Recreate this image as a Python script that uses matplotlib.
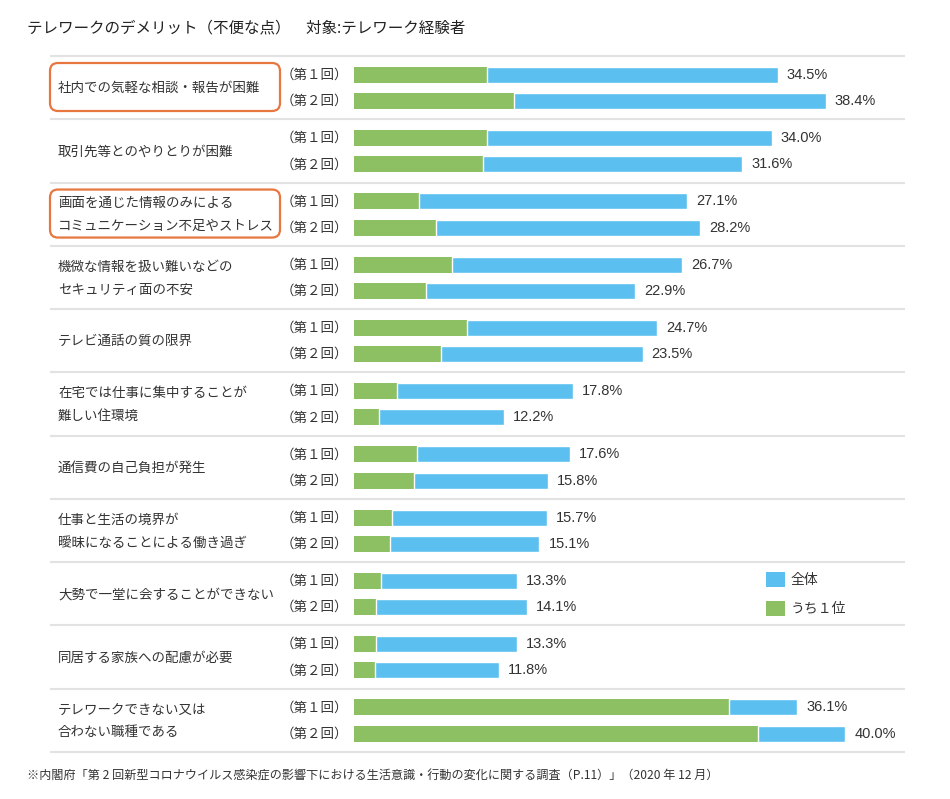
import numpy as np
import matplotlib
matplotlib.use("Agg")
import matplotlib.pyplot as plt
from matplotlib.patches import FancyBboxPatch, Patch

plt.rcParams['font.family'] = ['Noto Sans CJK JP', 'DejaVu Sans']

# ---------------- data ----------------
categories = [
    "社内での気軽な相談・報告が困難",
    "取引先等とのやりとりが困難",
    "画面を通じた情報のみによる\nコミュニケーション不足やストレス",
    "機微な情報を扱い難いなどの\nセキュリティ面の不安",
    "テレビ通話の質の限界",
    "在宅では仕事に集中することが\n難しい住環境",
    "通信費の自己負担が発生",
    "仕事と生活の境界が\n曖昧になることによる働き過ぎ",
    "大勢で一堂に会することができない",
    "同居する家族への配慮が必要",
    "テレワークできない又は\n合わない職種である",
]
round_labels = ["（第１回）", "（第２回）"]
total_r1 = [34.5, 34.0, 27.1, 26.7, 24.7, 17.8, 17.6, 15.7, 13.3, 13.3, 36.1]
total_r2 = [38.4, 31.6, 28.2, 22.9, 23.5, 12.2, 15.8, 15.1, 14.1, 11.8, 40.0]
first_r1 = [10.8, 10.8, 5.3, 8.0, 9.2, 3.5, 5.1, 3.1, 2.2, 1.8, 30.5]
first_r2 = [13.0, 10.5, 6.7, 5.9, 7.1, 2.0, 4.9, 2.9, 1.8, 1.7, 32.9]
highlighted = [0, 2]
legend_labels = ["全体", "うち１位"]
title = "テレワークのデメリット（不便な点）　対象:テレワーク経験者"
footnote = "※内閣府「第 2 回新型コロナウイルス感染症の影響下における生活意識・行動の変化に関する調査（P.11）」（2020 年 12 月）"

# ---------------- style / layout ----------------
W, H = 950, 799
GREEN = "#8cc063"
BLUE = "#5bc0ef"
ORANGE = "#e8773f"
TEXT = "#333333"
LINE = "#e2e2e2"
top0 = 56.0
pitch = (752.0 - 56.0) / len(categories)
bar_h = 16.0
off1, off2 = 18.7, 45.0
bar_x0 = 354.0
px_per_pct = 12.28

fig = plt.figure(figsize=(W / 100, H / 100), dpi=100)
fig.patch.set_facecolor("white")

# overlay axes in pixel coordinates for decorations / text
ax0 = fig.add_axes([0, 0, 1, 1])
ax0.set_xlim(0, W)
ax0.set_ylim(H, 0)
ax0.axis("off")

# bar axes
ax = fig.add_axes([bar_x0 / W, 0, (W - bar_x0) / W, 1])
ax.set_xlim(0, (W - bar_x0) / px_per_pct)
ax.set_ylim(H, 0)
ax.axis("off")

n = len(categories)
tops = top0 + np.arange(n) * pitch
y1 = tops + off1
y2 = tops + off2

t1 = np.array(total_r1)
t2 = np.array(total_r2)
f1 = np.array(first_r1)
f2 = np.array(first_r2)

for ys, tot, fst in [(y1, t1, f1), (y2, t2, f2)]:
    ax.barh(ys, fst, height=bar_h, color=GREEN, linewidth=0)
    ax.barh(ys, tot - fst, left=fst, height=bar_h, color=BLUE,
            edgecolor="white", linewidth=1.0)
    for y, v in zip(ys, tot):
        ax.annotate(f"{v:.1f}%", (v, y), xytext=(6.5, 0), textcoords="offset points",
                    ha="left", va="center", fontsize=10.5, color=TEXT,
                    family=["Liberation Sans", "DejaVu Sans"])

# separators
for k in range(n + 1):
    yy = top0 + k * pitch
    ax0.plot([50, 905], [yy, yy], color=LINE, linewidth=1.5, solid_capstyle="butt")

# category labels and round labels
for i, cat in enumerate(categories):
    ax0.text(58, tops[i] + pitch / 2 + 0.5, cat, ha="left", va="center",
             fontsize=9.7, color=TEXT, linespacing=1.8)
    ax0.text(348, y1[i], round_labels[0], ha="right", va="center", fontsize=9.7, color=TEXT)
    ax0.text(348, y2[i], round_labels[1], ha="right", va="center", fontsize=9.7, color=TEXT)

# highlight boxes
for i in highlighted:
    box = FancyBboxPatch((50, tops[i] + 7), 230, 48,
                         boxstyle="round,pad=0,rounding_size=8",
                         linewidth=1.6, edgecolor=ORANGE, facecolor="none")
    ax0.add_patch(box)

# title & footnote
ax0.text(27, 28, title, ha="left", va="center", fontsize=11.2, color="#222222")
ax0.text(27, 776, footnote, ha="left", va="center", fontsize=8.7, color=TEXT)

# legend
handles = [Patch(facecolor=BLUE, edgecolor="none"), Patch(facecolor=GREEN, edgecolor="none")]
fig.legend(handles, legend_labels, loc="upper left",
           bbox_to_anchor=(766 / W, 1 - 572 / H), bbox_transform=fig.transFigure,
           frameon=False, fontsize=10, handlelength=1.35, handleheight=1.3,
           handletextpad=0.4, labelspacing=1.0, borderpad=0, borderaxespad=0,
           labelcolor=TEXT)

fig.savefig("out.png", dpi=100, facecolor="white")
